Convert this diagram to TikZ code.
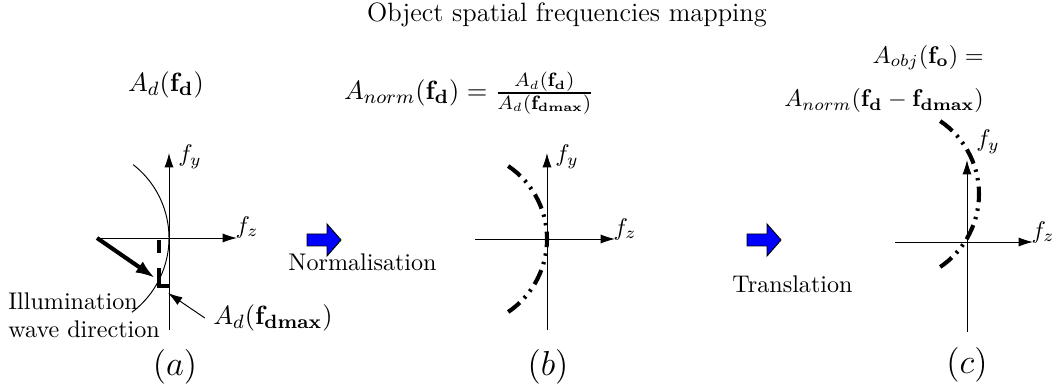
\documentclass[tikz,border=0pt]{standalone}
\usepackage{amsmath}
\usetikzlibrary{arrows.meta}
\begin{document}
\begin{tikzpicture}[x=0.415pt,y=0.415pt,
  axis/.style={-{Latex[length=6pt,width=3.8pt]}},
  biglabel/.style={font=\fontsize{11}{13.5}\selectfont},
  fdash/.style={line width=1.7pt,dash pattern=on 6.5pt off 2.6pt on 1pt off 2.6pt on 1pt off 2.6pt},
  blockarrow/.style={fill=blue,draw=black,line width=0.4pt}]
\useasboundingbox (0,0) rectangle (1053,392);
\node[biglabel] (title) at (567,377) {Object spatial frequencies mapping};
% (a) measured amplitude
\node[biglabel] (adlabel) at (166,307) {$A_d(\mathbf{f_d})$};
\draw[axis] (169,62) -- (169,239);
\draw[axis] (97,154) -- (237,154);
\node (fya) at (190,235) {$f_y$};
\node (fza) at (247,165) {$f_z$};
\draw (76,154) ++(52:93) arc (52:-53:93);
\coordinate (illum) at (155,114);
\draw[line width=1.7pt,-{Latex[length=8pt,width=5.5pt]}] (97,154) -- (illum);
\draw[line width=1.7pt,dash pattern=on 5.4pt off 6.2pt on 12pt] (159,152) -- (159,106) -- (169,106);
\node[align=left,anchor=west,inner sep=0pt] (illumlabel) at (8,77) {Illumination\\[-0.5pt]wave direction};
\coordinate (dmaxpt) at (168,99);
\node[biglabel] (dmax) at (273,74) {$A_d(\mathbf{f_{dmax}})$};
\draw[axis] (dmax.west) -- (dmaxpt);
\node (capa) at (175,25) {\Large $(a)$};
% normalisation
\draw[blockarrow] (307,146) -- (327,146) -- (327,136) -- (341,152) -- (327,168) -- (327,158) -- (307,158) -- cycle;
\node[anchor=west,inner sep=0pt] (norm) at (288,130) {Normalisation};
% (b) normalised amplitude
\node[biglabel] (normlabel) at (469,299) {$A_{norm}(\mathbf{f_d}) = \frac{A_d(\mathbf{f_d})}{A_d(\mathbf{f_{dmax}})}$};
\draw[axis] (547,62) -- (547,239);
\draw[axis] (475,153) -- (615,153);
\node (fyb) at (567,235) {$f_y$};
\node (fzb) at (625,163) {$f_z$};
\draw[fdash] (459,153) ++(56:88) arc (56:-56:88);
\node (capb) at (548,25) {\Large $(b)$};
% translation
\draw[blockarrow] (747,146) -- (767,146) -- (767,136) -- (781,152) -- (767,168) -- (767,158) -- (747,158) -- cycle;
\node[anchor=west,inner sep=0pt] (trans) at (732,108) {Translation};
% (c) object spectrum
\node[align=right] (objlabel) at (884,313) {$A_{obj}(\mathbf{f_o}) =$\\[6pt]$A_{norm}(\mathbf{f_d}-\mathbf{f_{dmax}})$};
\draw[axis] (967,60) -- (967,232);
\draw[axis] (895,150) -- (1033,150);
\node (fyc) at (988,250) {$f_y$};
\node (fzc) at (1043,160) {$f_z$};
\draw[fdash] (891,198) ++(56:88) arc (56:-56:88);
\node (capc) at (967,27) {\Large $(c)$};
\end{tikzpicture}
\end{document}
